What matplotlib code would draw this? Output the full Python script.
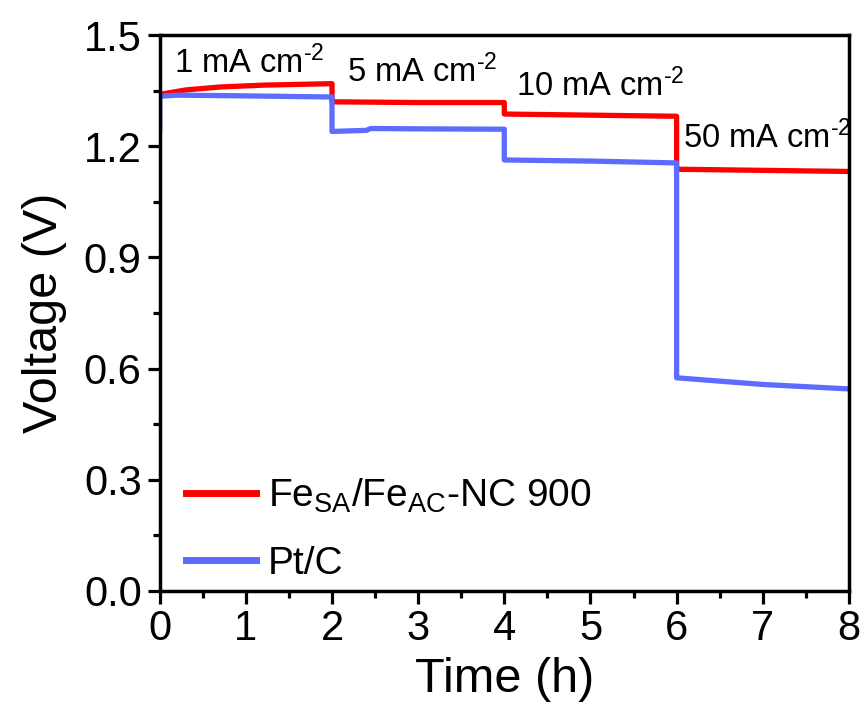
import numpy as np
import matplotlib
matplotlib.use("Agg")
import matplotlib.pyplot as plt
from matplotlib.ticker import MultipleLocator

plt.rcParams['font.family'] = ['Liberation Sans', 'DejaVu Sans']
plt.rcParams['mathtext.fontset'] = 'custom'
plt.rcParams['mathtext.rm'] = 'Liberation Sans'
plt.rcParams['mathtext.it'] = 'Liberation Sans'
plt.rcParams['mathtext.default'] = 'regular'

# galvanostatic discharge steps (time in h, voltage in V)
t_fe = [0.0, 0.3, 0.7, 1.2, 2.0, 2.0, 3.0, 4.0, 4.0, 5.0, 6.0, 6.0, 7.0, 8.0]
v_fe = [1.340, 1.352, 1.360, 1.365, 1.369, 1.320, 1.318, 1.318, 1.287, 1.284, 1.281, 1.138, 1.135, 1.132]

t_pt = [0.0, 0.0, 0.2, 1.0, 2.0, 2.0, 2.4, 2.45, 3.0, 4.0, 4.0, 5.0, 6.0, 6.0, 7.0, 8.0]
v_pt = [1.245, 1.335, 1.338, 1.336, 1.333, 1.240, 1.243, 1.248, 1.247, 1.246, 1.163, 1.160, 1.155, 0.575, 0.557, 0.545]

labels = ['Fe$_{SA}$/Fe$_{AC}$-NC 900', 'Pt/C']
steps = ['1 mA cm$^{\u20102}$', '5 mA cm$^{\u20102}$', '10 mA cm$^{\u20102}$', '50 mA cm$^{\u20102}$']
step_pos = [(0.17, 1.397), (2.17, 1.373), (4.13, 1.335), (6.08, 1.195)]

RED = '#FF0000'
BLUE = '#5B6CFF'

fig = plt.figure(figsize=(8.68, 7.17), dpi=100)
ax = fig.add_axes([0.184, 0.176, 0.794, 0.775])

ax.plot(t_fe, v_fe, color=RED, lw=3.8, label=labels[0], solid_joinstyle='round')
ax.plot(t_pt, v_pt, color=BLUE, lw=3.8, label=labels[1], solid_joinstyle='round')

for txt, (x, y) in zip(steps, step_pos):
    ax.text(x, y, txt, fontsize=23.5, va='baseline', ha='left')

ax.set_xlim(0, 8)
ax.set_ylim(0, 1.5)
ax.xaxis.set_major_locator(MultipleLocator(1))
ax.xaxis.set_minor_locator(MultipleLocator(0.5))
ax.yaxis.set_major_locator(MultipleLocator(0.3))
ax.yaxis.set_minor_locator(MultipleLocator(0.15))
ax.yaxis.set_major_formatter(plt.FormatStrFormatter('%.1f'))

ax.tick_params(which='major', direction='out', length=9, width=2.3, labelsize=30, pad=4)
ax.tick_params(which='minor', direction='out', length=5, width=2.3)
for s in ax.spines.values():
    s.set_linewidth(2.5)

ax.set_xlabel('Time (h)', fontsize=35, labelpad=6)
ax.set_ylabel('Voltage (V)', fontsize=35, labelpad=12)

leg = ax.legend(loc='lower left', bbox_to_anchor=(0.025, 0.0), frameon=False,
                fontsize=28, handlelength=1.8, handletextpad=0.3, labelspacing=0.8,
                borderpad=0.1, borderaxespad=0.13)
for h in leg.get_lines():
    h.set_linewidth(5)

fig.savefig('out.png', dpi=100)
